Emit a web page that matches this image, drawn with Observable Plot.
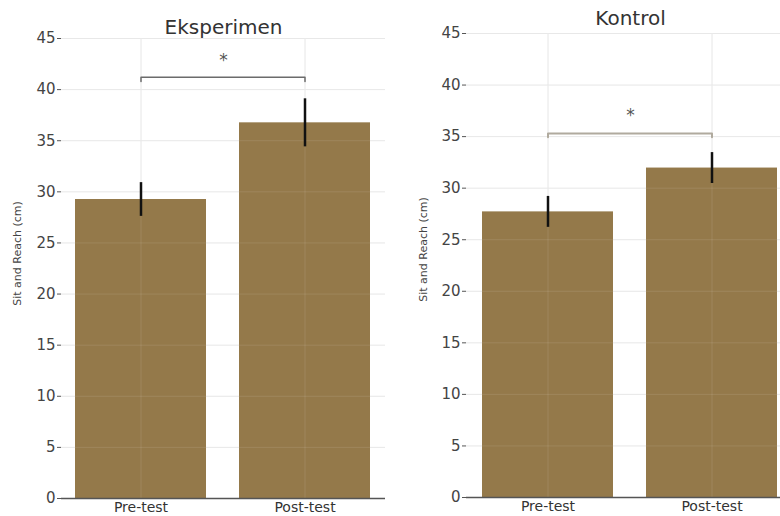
<!DOCTYPE html>
<html>
<head>
<meta charset="utf-8">
<script src="https://cdn.jsdelivr.net/npm/d3@7"></script>
<script src="https://cdn.jsdelivr.net/npm/@observablehq/plot@0.6"></script>
<style>
  html, body { margin: 0; padding: 0; background: #fff; }
  #wrap { position: relative; width: 780px; height: 516px; overflow: hidden; }
  .panel { position: absolute; top: 0; }
  .panel svg { max-width: none !important; }
</style>
</head>
<body>
<div id="wrap">
  <div class="panel" id="left" style="left:0px; width:390px"></div>
  <div class="panel" id="right" style="left:390px; width:404px"></div>
</div>
<script>
const tests = ["Pre-test", "Post-test"];
const panelTitles = ["Eksperimen", "Kontrol"];
const eksMean = [29.25, 36.75];
const eksErr = [1.65, 2.35];
const konMean = [27.7, 31.95];
const konErr = [1.5, 1.5];
const bracketY = [41.2, 35.3];
const bracketDrop = [0.4, 0.35];
const starY = [42.8, 37.0];
const yTicks = [0, 5, 10, 15, 20, 25, 30, 35, 40, 45];
const yLabel = "Sit and Reach (cm)";

function panel(i, means, errs, opts) {
  const data = tests.map((t, k) => ({test: t, mean: means[k], lo: means[k] - errs[k], hi: means[k] + errs[k]}));
  const br = [
    {test: tests[0], y: bracketY[i] - bracketDrop[i]},
    {test: tests[0], y: bracketY[i]},
    {test: tests[1], y: bracketY[i]},
    {test: tests[1], y: bracketY[i] - bracketDrop[i]}
  ];
  const innerW = opts.width - opts.ml - opts.mr;
  return Plot.plot({
    width: opts.width,
    height: 516,
    marginLeft: opts.ml,
    marginRight: opts.mr,
    marginTop: opts.mt,
    marginBottom: opts.mb,
    style: {fontFamily: "DejaVu Sans, sans-serif", fontSize: "14px", color: "#444", background: "transparent", maxWidth: "none"},
    x: {domain: tests, paddingInner: 0.2, paddingOuter: opts.po, label: null},
    y: {domain: [0, 45], label: null},
    marks: [
      Plot.gridY(yTicks, {stroke: "#e6e6e6", strokeOpacity: 1, strokeWidth: 1}),
      Plot.gridX(tests, {stroke: "#e6e6e6", strokeOpacity: 1, strokeWidth: 1}),
      Plot.barY(data, {x: "test", y: "mean", fill: "#94794a"}),
      Plot.gridY(yTicks, {stroke: "#ffffff", strokeOpacity: 0.1, strokeWidth: 1}),
      Plot.gridX(tests, {stroke: "#ffffff", strokeOpacity: 0.1, strokeWidth: 1}),
      Plot.ruleX(data, {x: "test", y1: "lo", y2: "hi", stroke: "#111", strokeWidth: 2.5}),
      Plot.line(br, {x: "test", y: "y", stroke: opts.brColor, strokeWidth: opts.brWidth}),
      Plot.text(["*"], {frameAnchor: "middle", y: () => starY[i], text: d => d, fontSize: 17, fill: "#555"}),
      Plot.axisY(yTicks, {tickSize: 4, tickPadding: 2, fontSize: 15, fill: "#444", stroke: "#555", label: null}),
      Plot.axisX({tickSize: 0, tickPadding: 4, fontSize: 14, fill: "#333", label: null}),
      Plot.ruleY([0], {stroke: "#555", strokeWidth: 1.5}),
      Plot.ruleX([null], {y1: 0, y2: 45, dx: -innerW / 2, stroke: "#555", strokeWidth: 1.5}),
      Plot.text([panelTitles[i]], {frameAnchor: "top", dy: opts.titleDy, fontSize: 20, fill: "#333"}),
      Plot.text([yLabel], {frameAnchor: "left", textAnchor: "middle", rotate: -90, dx: -opts.labOff, dy: opts.labDy, fontSize: 11, fill: "#444"})
    ]
  });
}

document.getElementById("left").append(
  panel(0, eksMean, eksErr, {width: 390, ml: 61, mr: 5, mt: 38, mb: 18, po: 0.085, brColor: "#6b6b6b", brWidth: 1.5, titleDy: -19, labOff: 44, labDy: -15})
);
document.getElementById("right").append(
  panel(1, konMean, konErr, {width: 404, ml: 76, mr: 0, mt: 33, mb: 19, po: 0.095, brColor: "#b0aa9e", brWidth: 2, titleDy: -23, labOff: 43, labDy: -16})
);
</script>
</body>
</html>
